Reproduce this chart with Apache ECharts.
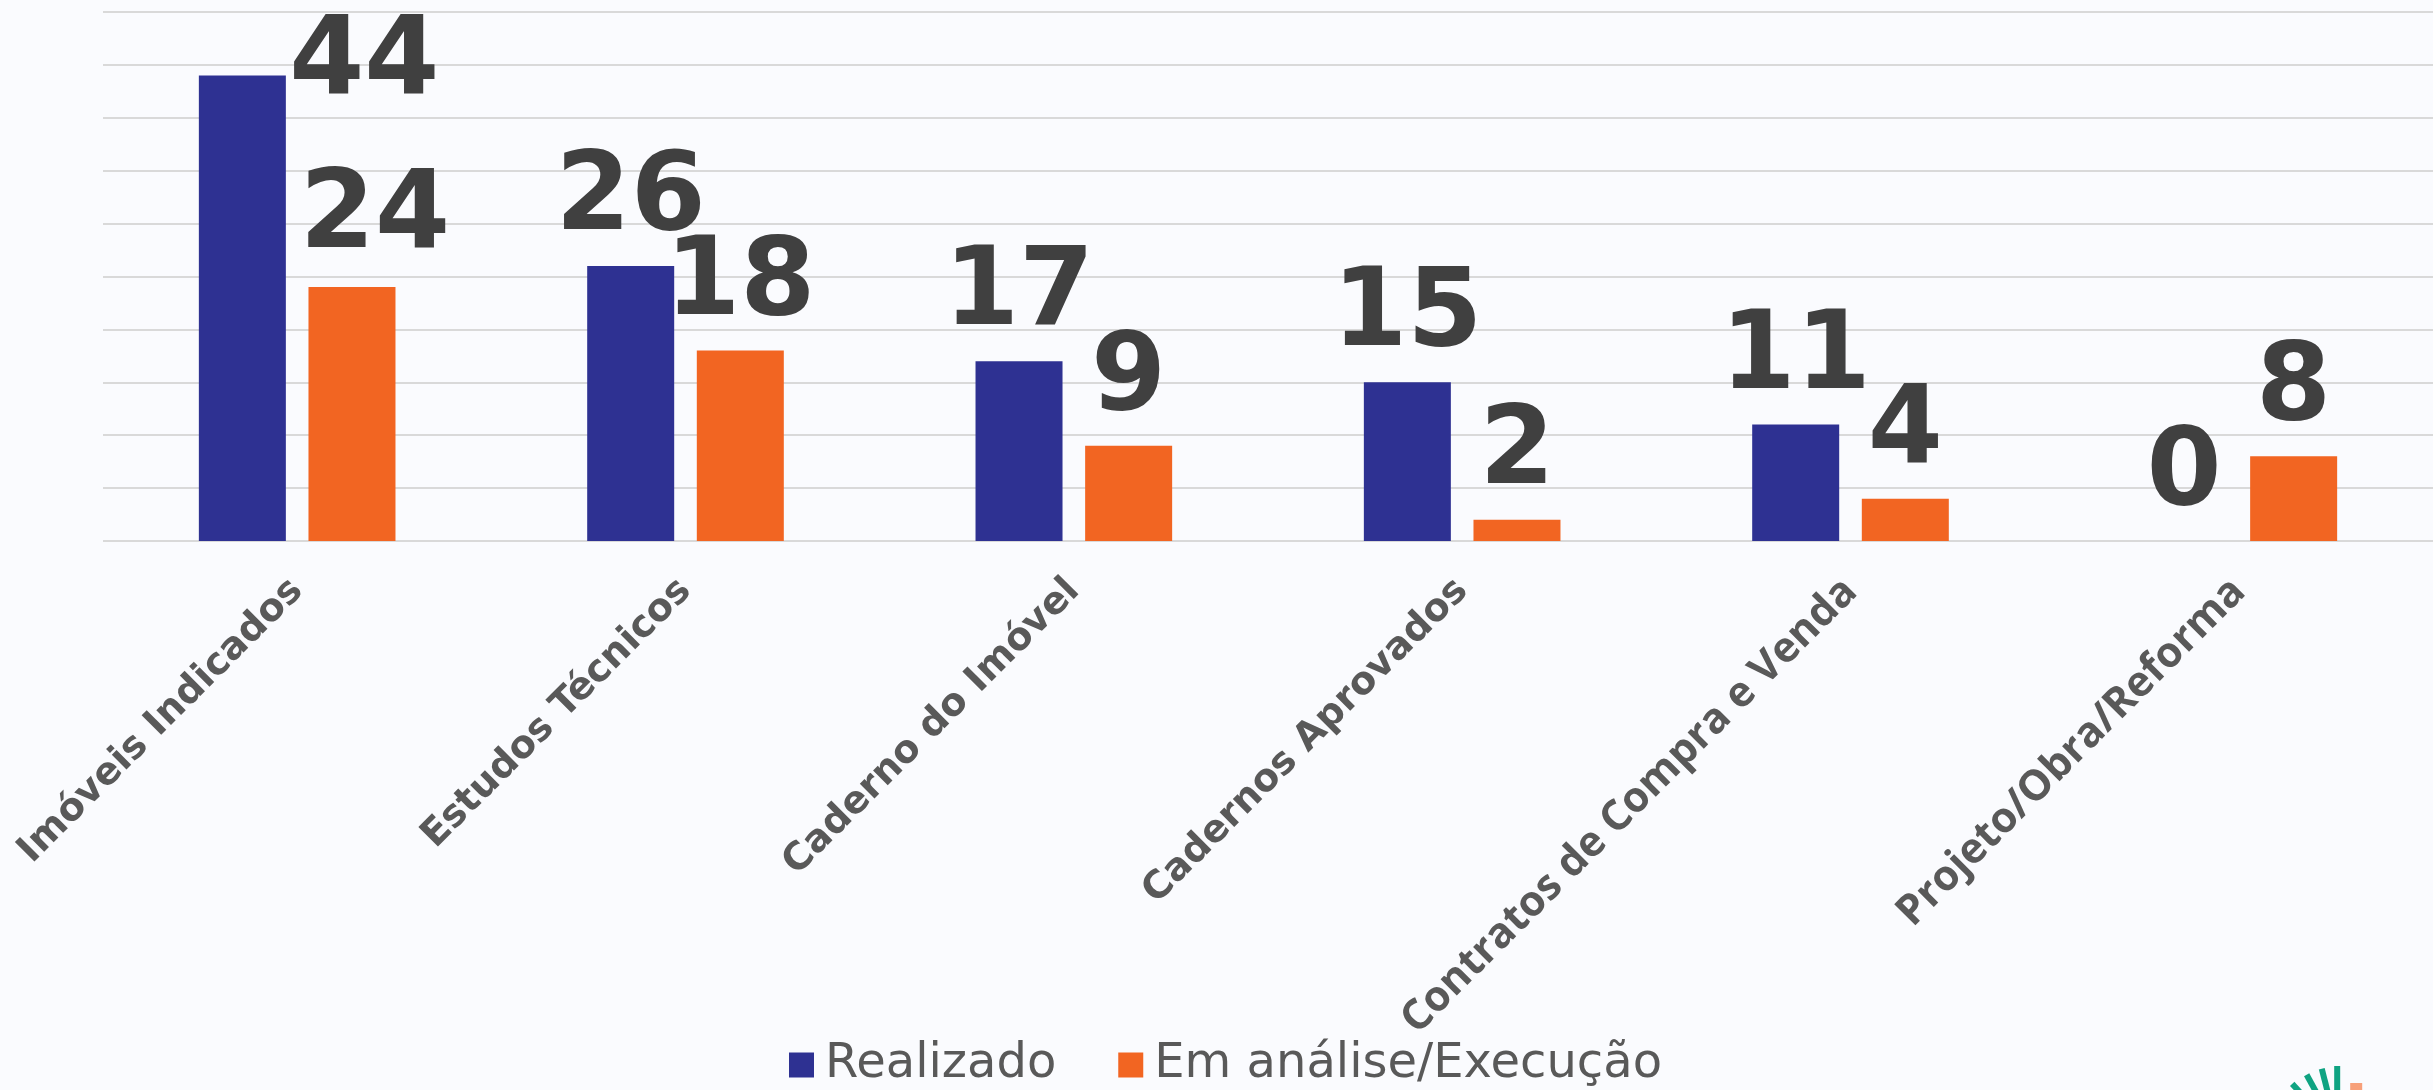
<!DOCTYPE html>
<html>
<head>
<meta charset="utf-8">
<script src="https://cdn.jsdelivr.net/npm/echarts@6/dist/echarts.min.js"></script>
<style>
html,body{margin:0;padding:0;background:#fafbfe;}
#c{width:2433px;height:1090px;}
</style>
</head>
<body>
<div id="c"></div>
<script>
const categories = ['Imóveis Indicados','Estudos Técnicos','Caderno do Imóvel','Cadernos Aprovados','Contratos de Compra e Venda','Projeto/Obra/Reforma'];
const seriesNames = ['Realizado','Em análise/Execução'];
const realizado = [44, 26, 17, 15, 11, 0];
const emAnalise = [24, 18, 9, 2, 4, 8];

// label nudges (styling only): [dx, dy] in px
const realizadoNudge = [[122, 54],[0,0],[0,0],[0,0],[0,0],[0,0]];
const emAnaliseNudge = [[23, -3],[0,0],[0,0],[0,0],[0,0],[0,0]];
// axis label font style per category (styling only)
const labelFontKey = ['v','v','v','v','o','o'];

const baseDy = -65;
function build(values, nudges){
  return values.map((v,i)=>({
    value: v,
    label: { offset: [nudges[i][0], baseDy + nudges[i][1]] }
  }));
}

const labelStyle = {
  show: true,
  position: ['50%', 0],
  align: 'center',
  verticalAlign: 'middle',
  fontFamily: 'DejaVu Sans',
  fontWeight: 'bold',
  fontSize: 108,
  color: '#404040'
};

const chart = echarts.init(document.getElementById('c'));
chart.setOption({
  backgroundColor: '#fafbfe',
  animation: false,
  grid: { left: 103, top: 12, width: 2340, height: 529, containLabel: false },
  legend: {
    data: seriesNames,
    left: 784, top: 1036,
    icon: 'rect', itemWidth: 25, itemHeight: 25, itemGap: 62,
    textStyle: { fontFamily: 'DejaVu Sans', fontSize: 48, color: '#595959', padding: [0,0,0,6] }
  },
  xAxis: {
    type: 'category',
    data: categories,
    axisLine: { show: false },
    axisTick: { show: false },
    axisLabel: {
      interval: 0, rotate: 45, margin: 44,
      fontFamily: 'DejaVu Sans', fontWeight: 'bold', fontSize: 38, color: '#595959',
      formatter: (val, idx) => '{' + labelFontKey[idx] + '|' + val + '}',
      rich: {
        v: { fontFamily: 'DejaVu Sans', fontWeight: 'bold', fontSize: 38, color: '#595959' },
        o: { fontFamily: 'Open Sans', fontWeight: 'bold', fontSize: 42, color: '#595959' }
      }
    }
  },
  yAxis: {
    type: 'value', min: 0, max: 50, interval: 5,
    axisLabel: { show: false },
    axisLine: { show: false },
    axisTick: { show: false },
    splitLine: { lineStyle: { color: '#d9d9d9', width: 2 } }
  },
  series: [
    { name: seriesNames[0], type: 'bar', data: build(realizado, realizadoNudge),
      barWidth: 87, barGap: '26%', itemStyle: { color: '#2e3192' }, label: labelStyle },
    { name: seriesNames[1], type: 'bar', data: build(emAnalise, emAnaliseNudge),
      barWidth: 87, itemStyle: { color: '#f26522' }, label: labelStyle }
  ],
  graphic: [
    { type: 'group', left: 2290, top: 1066, children: [
      { type: 'rect', shape: {x: 36, y: 2, width: 6, height: 24}, style: {fill: '#0fa382'} },
      { type: 'rect', shape: {x: 26, y: 4, width: 6, height: 24}, rotation: 0.25, originX: 29, originY: 26, style: {fill: '#0fa382'} },
      { type: 'rect', shape: {x: 16, y: 8, width: 6, height: 24}, rotation: 0.5, originX: 19, originY: 30, style: {fill: '#0fa382'} },
      { type: 'rect', shape: {x: 6, y: 14, width: 6, height: 24}, rotation: 0.75, originX: 9, originY: 36, style: {fill: '#0fa382'} },
      { type: 'rect', shape: {x: 52, y: 19, width: 12, height: 8}, style: {fill: '#f7a07a'} }
    ]}
  ]
});
</script>
</body>
</html>
